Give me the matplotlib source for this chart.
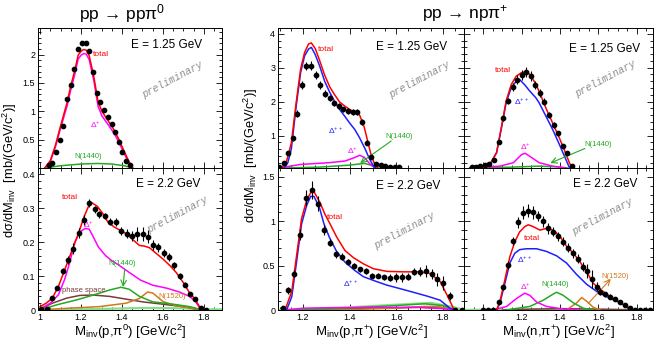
import numpy as np
import matplotlib.pyplot as plt
from matplotlib.ticker import MultipleLocator, FuncFormatter

plt.rcParams['font.family'] = ['Liberation Sans', 'DejaVu Sans']
plt.rcParams['mathtext.default'] = 'regular'

# ---------------- pp -> pp pi0, 1.25 GeV
tl_x = [1.043,1.059,1.076,1.095,1.113,1.133,1.150,1.168,1.186,1.204,1.222,1.240,1.258,1.277,1.295,1.313,1.331,1.349,1.367,1.384,1.402,1.420,1.438]
tl_y = [0.05,0.09,0.28,0.49,0.74,1.22,1.47,1.74,2.10,2.21,2.21,2.07,1.70,1.32,1.16,1.02,0.90,0.78,0.64,0.46,0.29,0.13,0.05]
tl_e = [0.02]*23
tl_tot_x = [1.023,1.05,1.075,1.10,1.133,1.15,1.168,1.186,1.20,1.213,1.225,1.24,1.263,1.283,1.302,1.331,1.36,1.384,1.41,1.433,1.452]
tl_tot_y = [0.0,0.13,0.40,0.74,1.17,1.45,1.70,1.99,2.06,2.09,2.08,1.98,1.60,1.17,1.00,0.84,0.68,0.51,0.30,0.12,0.0]
tl_dp_y  = [0.0,0.11,0.37,0.70,1.11,1.38,1.63,1.92,1.99,2.02,2.01,1.91,1.53,1.09,0.92,0.77,0.62,0.46,0.26,0.09,0.0]
tl_n_x = [1.023,1.10,1.20,1.28,1.35,1.41,1.452]
tl_n_y = [0.0,0.04,0.07,0.08,0.07,0.04,0.0]

# ---------------- pp -> pp pi0, 2.2 GeV
bl_x = [1.005,1.035,1.059,1.083,1.113,1.137,1.161,1.188,1.213,1.239,1.266,1.290,1.316,1.342,1.370,1.396,1.423,1.449,1.475,1.501,1.525,1.552,1.577,1.604,1.629,1.654,1.682,1.706,1.734,1.758,1.787,1.81]
bl_y = [0.002,0.002,0.036,0.064,0.115,0.147,0.181,0.227,0.265,0.316,0.296,0.282,0.277,0.260,0.258,0.232,0.225,0.218,0.223,0.224,0.216,0.191,0.184,0.169,0.155,0.132,0.100,0.074,0.047,0.031,0.005,0.0]
bl_e = [0.002,0.002,0.005,0.006,0.01,0.012,0.015,0.015,0.015,0.012,0.01,0.01,0.01,0.01,0.012,0.012,0.012,0.015,0.02,0.02,0.02,0.015,0.012,0.012,0.012,0.01,0.008,0.007,0.006,0.005,0.003,0.002]
bl_tot_x = [1.0,1.03,1.06,1.09,1.115,1.14,1.165,1.19,1.215,1.24,1.255,1.28,1.305,1.33,1.36,1.39,1.42,1.455,1.485,1.51,1.535,1.56,1.60,1.635,1.665,1.70,1.73,1.755,1.78,1.795]
bl_tot_y = [0.01,0.02,0.035,0.07,0.11,0.15,0.19,0.23,0.275,0.31,0.315,0.305,0.285,0.26,0.245,0.235,0.225,0.206,0.19,0.188,0.183,0.17,0.15,0.13,0.11,0.08,0.05,0.033,0.008,0.0]
bl_dp_x = [1.0,1.05,1.09,1.12,1.145,1.17,1.195,1.22,1.24,1.26,1.285,1.32,1.35,1.38,1.42,1.49,1.55,1.62,1.68,1.73,1.76,1.785]
bl_dp_y = [0.003,0.02,0.045,0.09,0.14,0.20,0.23,0.24,0.238,0.215,0.185,0.16,0.145,0.134,0.117,0.088,0.073,0.064,0.053,0.04,0.024,0.0]
bl_n_x = [1.0,1.08,1.18,1.26,1.34,1.395,1.435,1.485,1.55,1.65,1.73,1.78]
bl_n_y = [0.0,0.015,0.03,0.044,0.059,0.067,0.061,0.04,0.024,0.017,0.01,0.002]
bl_ps_x = [1.0,1.06,1.13,1.195,1.26,1.34,1.42,1.50,1.60,1.71,1.78]
bl_ps_y = [0.002,0.02,0.035,0.043,0.044,0.04,0.032,0.024,0.017,0.009,0.0]
bl_r_x = [1.0,1.13,1.29,1.42,1.485,1.525,1.55,1.60,1.665,1.745,1.78]
bl_r_y = [0.0,0.005,0.01,0.02,0.034,0.053,0.05,0.025,0.012,0.005,0.0]
bl_bg_x = [1.0,1.3,1.5,1.7,1.78,1.89]
bl_bg_y = [0.0,0.003,0.006,0.005,0.002,0.002]

# ---------------- pp -> n p pi+, M(p,pi+), 1.25 GeV
mt_x = [1.096,1.117,1.136,1.156,1.176,1.194,1.214,1.234,1.254,1.274,1.294,1.315,1.334,1.353,1.373,1.393,1.413,1.433,1.453,1.473,1.493,1.513,1.533,1.553,1.573,1.593,1.613]
mt_y = [0.06,0.19,0.48,0.92,1.64,2.49,3.05,3.06,2.78,2.49,2.24,2.10,1.95,1.87,1.77,1.72,1.70,1.70,1.39,0.79,0.38,0.16,0.12,0.09,0.07,0.06,0.06]
mt_e = [0.02,0.03,0.05,0.08,0.1,0.12,0.13,0.13,0.12,0.11,0.1,0.09,0.08,0.08,0.08,0.08,0.09,0.09,0.09,0.07,0.05,0.03,0.02,0.02,0.02,0.01,0.01]
mt_tot_x = [1.11,1.13,1.15,1.171,1.19,1.207,1.224,1.236,1.253,1.272,1.293,1.315,1.336,1.357,1.379,1.40,1.422,1.443,1.462,1.476,1.49,1.504,1.522]
mt_tot_y = [0.05,0.25,0.78,1.98,2.96,3.45,3.70,3.73,3.56,3.20,2.78,2.43,2.20,1.99,1.87,1.77,1.70,1.60,1.26,0.87,0.48,0.21,0.05]
mt_dpp_x = [1.12,1.135,1.15,1.171,1.19,1.207,1.224,1.236,1.253,1.272,1.293,1.315,1.336,1.357,1.379,1.40,1.422,1.443,1.464,1.486,1.504,1.512]
mt_dpp_y = [0.05,0.2,0.6,1.87,2.86,3.35,3.55,3.60,3.38,3.04,2.60,2.27,2.00,1.77,1.57,1.37,1.18,0.93,0.64,0.30,0.08,0.05]
mt_dp_x = [1.10,1.19,1.31,1.38,1.42,1.443,1.464,1.486,1.51]
mt_dp_y = [0.05,0.15,0.20,0.25,0.35,0.42,0.35,0.17,0.05]
mt_n_x = [1.10,1.27,1.40,1.464,1.49,1.51]
mt_n_y = [0.045,0.07,0.13,0.18,0.13,0.05]

# ---------------- pp -> n p pi+, M(p,pi+), 2.2 GeV
mb_x = [1.113,1.137,1.161,1.187,1.213,1.239,1.264,1.29,1.316,1.342,1.367,1.393,1.419,1.445,1.47,1.496,1.522,1.548,1.573,1.6,1.625,1.651,1.676,1.702,1.727,1.751,1.776,1.80,1.828,1.852,1.881]
mb_y = [0.02,0.22,0.41,0.85,1.26,1.35,1.20,0.90,0.76,0.63,0.60,0.545,0.50,0.46,0.44,0.387,0.387,0.368,0.364,0.368,0.368,0.376,0.43,0.43,0.44,0.406,0.346,0.30,0.158,0.0,0.0]
mb_e = [0.01,0.04,0.04,0.06,0.09,0.1,0.08,0.06,0.04,0.04,0.04,0.03,0.03,0.03,0.03,0.03,0.03,0.03,0.04,0.05,0.05,0.04,0.04,0.05,0.07,0.06,0.07,0.08,0.05,0.005,0.005]
mb_tot_x = [1.123,1.152,1.173,1.194,1.216,1.237,1.25,1.273,1.294,1.316,1.345,1.38,1.416,1.459,1.502,1.56,1.63,1.70,1.745,1.788,1.817,1.848]
mb_tot_y = [0.0,0.21,0.62,1.03,1.24,1.34,1.32,1.21,1.08,0.97,0.82,0.67,0.59,0.52,0.465,0.435,0.43,0.43,0.41,0.32,0.17,0.0]
mb_dpp_x = [1.13,1.152,1.173,1.194,1.216,1.233,1.247,1.27,1.29,1.313,1.342,1.378,1.42,1.459,1.516,1.56,1.645,1.73,1.788,1.83,1.85]
mb_dpp_y = [0.0,0.15,0.55,0.97,1.18,1.28,1.28,1.16,0.97,0.82,0.67,0.545,0.45,0.375,0.32,0.28,0.22,0.158,0.11,0.02,0.0]
mb_dp_x = [1.12,1.2,1.3,1.5,1.7,1.8,1.85]
mb_dp_y = [0.0,0.02,0.025,0.03,0.03,0.015,0.0]
mb_n_x = [1.12,1.3,1.45,1.6,1.72,1.8,1.85]
mb_n_y = [0.0,0.01,0.03,0.05,0.07,0.05,0.0]
mb_r_x = [1.12,1.4,1.6,1.72,1.78,1.85]
mb_r_y = [0.0,0.005,0.02,0.04,0.04,0.0]
mb_ps_x = [1.12,1.3,1.5,1.7,1.8,1.85]
mb_ps_y = [0.0,0.01,0.02,0.03,0.02,0.0]
mb_bg_x = [1.09,1.4,1.6,1.75,1.85,1.89]
mb_bg_y = [0.0,0.03,0.06,0.08,0.03,0.0]

# ---------------- pp -> n p pi+, M(n,pi+), 1.25 GeV
rt_x = [0.94,0.962,0.984,1.007,1.03,1.056,1.082,1.104,1.127,1.153,1.177,1.20,1.224,1.247,1.271,1.296,1.318,1.343,1.367,1.391,1.416,1.438,1.463]
rt_y = [0.06,0.07,0.09,0.13,0.16,0.29,0.80,1.51,2.02,2.42,2.65,2.78,2.88,2.75,2.49,2.26,2.0,1.61,1.31,1.07,0.68,0.48,0.09]
rt_e = [0.02,0.02,0.03,0.03,0.04,0.05,0.06,0.08,0.1,0.12,0.13,0.14,0.14,0.14,0.13,0.12,0.1,0.09,0.08,0.07,0.06,0.05,0.03]
rt_tot_x = [0.93,1.035,1.07,1.095,1.12,1.146,1.172,1.198,1.22,1.24,1.266,1.292,1.327,1.362,1.397,1.423,1.449,1.463]
rt_tot_y = [0.05,0.15,0.5,1.25,2.03,2.5,2.75,2.85,2.88,2.82,2.6,2.3,1.81,1.37,0.93,0.58,0.2,0.05]
rt_dpp_x = [0.93,1.035,1.07,1.095,1.12,1.146,1.172,1.19,1.216,1.24,1.275,1.292,1.327,1.362,1.397,1.423,1.449,1.455]
rt_dpp_y = [0.05,0.15,0.5,1.22,1.98,2.41,2.6,2.65,2.5,2.33,2.11,1.96,1.57,1.18,0.74,0.4,0.06,0.045]
rt_dp_x = [0.96,1.087,1.157,1.2,1.218,1.24,1.292,1.362,1.43]
rt_dp_y = [0.05,0.1,0.2,0.44,0.48,0.4,0.2,0.1,0.05]
rt_n_x = [0.96,1.15,1.29,1.38,1.44]
rt_n_y = [0.045,0.07,0.1,0.08,0.045]

# ---------------- pp -> n p pi+, M(n,pi+), 2.2 GeV
rb_x = [1.0,1.026,1.052,1.083,1.104,1.13,1.156,1.183,1.209,1.235,1.261,1.287,1.313,1.339,1.365,1.391,1.417,1.443,1.47,1.496,1.522,1.539,1.565,1.592,1.609,1.635,1.661,1.687,1.713,1.739,1.765,1.79,1.817,1.843,1.87]
rb_y = [0,0,0,0.087,0.256,0.507,0.778,0.989,1.097,1.12,1.10,1.06,1.0,0.92,0.88,0.83,0.77,0.70,0.64,0.58,0.49,0.44,0.346,0.263,0.207,0.177,0.15,0.12,0.09,0.056,0.026,0,0,0,0]
rb_e = [0.003,0.003,0.003,0.02,0.03,0.04,0.05,0.06,0.07,0.07,0.07,0.06,0.06,0.06,0.05,0.05,0.05,0.05,0.05,0.05,0.05,0.08,0.1,0.05,0.04,0.03,0.03,0.02,0.02,0.02,0.01,0.003,0.003,0.003,0.003]
rb_tot_x = [1.07,1.087,1.113,1.139,1.165,1.19,1.217,1.235,1.26,1.296,1.33,1.365,1.40,1.434,1.47,1.504,1.539,1.574,1.609,1.643,1.678,1.713,1.748,1.774]
rb_tot_y = [0,0.096,0.34,0.6,0.77,0.88,0.94,0.96,0.94,0.90,0.92,0.90,0.83,0.72,0.64,0.545,0.43,0.30,0.236,0.18,0.13,0.083,0.038,0]
rb_dpp_x = [1.07,1.087,1.113,1.139,1.165,1.19,1.226,1.278,1.33,1.383,1.434,1.487,1.539,1.591,1.643,1.695,1.748,1.774]
rb_dpp_y = [0,0.075,0.3,0.53,0.64,0.68,0.69,0.69,0.66,0.61,0.53,0.4,0.29,0.21,0.15,0.10,0.038,0]
rb_dp_x = [1.05,1.122,1.174,1.217,1.243,1.278,1.33,1.417,1.504]
rb_dp_y = [0,0.04,0.13,0.19,0.165,0.09,0.04,0.01,0]
rb_n_x = [1.12,1.243,1.313,1.365,1.383,1.417,1.47,1.522,1.574]
rb_n_y = [0,0.04,0.11,0.18,0.20,0.165,0.08,0.02,0]
rb_r_x = [1.434,1.487,1.513,1.539,1.574,1.609]
rb_r_y = [0,0.08,0.14,0.10,0.03,0]
rb_ps_x = [1.1,1.25,1.4,1.55,1.7,1.77]
rb_ps_y = [0,0.01,0.015,0.012,0.005,0]
rb_bg_x = [0.9,1.2,1.5,1.8,1.885]
rb_bg_y = [0.002,0.003,0.003,0.002,0.002]

RED, MAG, GRN, BLU = '#ff0000', '#ff00ff', '#22aa22', '#1f1fff'
BRN, ORG, LGR = '#7a3b3b', '#d2781e', '#88dd88'

W, H = 654, 342
fig = plt.figure(figsize=(6.54, 3.42), dpi=100)

def panel(x0, x1, ytop, ybot):
    return fig.add_axes([x0 / W, 1 - ybot / H, (x1 - x0) / W, (ybot - ytop) / H])

def style(ax, xlim, ylim, ymaj, ymin, xlab, ylab, hide0=False):
    ax.set_xlim(*xlim)
    ax.set_ylim(*ylim)
    ax.xaxis.set_major_locator(MultipleLocator(0.2))
    ax.xaxis.set_minor_locator(MultipleLocator(0.05))
    ax.yaxis.set_major_locator(MultipleLocator(ymaj))
    ax.yaxis.set_minor_locator(MultipleLocator(ymin))
    ax.tick_params(which='both', direction='in', top=True, right=True,
                   labelsize=6.5, width=0.6, pad=2)
    ax.tick_params(which='major', length=4)
    ax.tick_params(which='minor', length=2)
    ax.xaxis.set_major_formatter(FuncFormatter(lambda v, p: f'{v:g}'))
    ax.yaxis.set_major_formatter(FuncFormatter(
        lambda v, p: '' if (hide0 and abs(v) < 1e-9) else f'{v:g}'))
    ax.tick_params(labelbottom=xlab, labelleft=ylab)
    for s in ax.spines.values():
        s.set_linewidth(0.7)

def data(ax, x, y, e):
    ax.errorbar(x, y, yerr=e, fmt='o', color='black', ms=3.1, elinewidth=0.8,
                capsize=0, zorder=6)

def curve(ax, x, y, c, lw=1.1, z=3):
    ax.plot(x, y, color=c, lw=lw, zorder=z)

def prelim(ax, x, y):
    ax.text(x, y, 'preliminary', transform=ax.transAxes, rotation=28,
            family='Liberation Mono', style='italic', color='0.55',
            fontsize=7.3, ha='center', va='center')

def energy(ax, x, y, s):
    ax.text(x, y, s, transform=ax.transAxes, fontsize=8.5, ha='center', va='center')

def lab(ax, x, y, s, c, fs=6):
    ax.text(x, y, s, color=c, fontsize=fs, ha='center', va='center', zorder=7)

def arrow(ax, tail, tip, c):
    ax.annotate('', xy=tip, xytext=tail,
                arrowprops=dict(arrowstyle='->', color=c, lw=0.8, shrinkA=0, shrinkB=0))

# ---- top-left
ax = panel(38, 222, 28, 168)
style(ax, (0.99, 1.888), (0, 2.47), 0.5, 0.1, False, True, hide0=True)
curve(ax, tl_n_x, tl_n_y, GRN)
curve(ax, tl_tot_x, tl_dp_y, MAG)
curve(ax, tl_tot_x, tl_tot_y, RED)
data(ax, tl_x, tl_y, tl_e)
lab(ax, 1.295, 2.0, 'total', RED)
lab(ax, 1.27, 0.76, 'Δ$^{+}$', MAG)
lab(ax, 1.236, 0.21, 'N(1440)', GRN, 5.5)
energy(ax, 0.70, 0.88, 'E = 1.25 GeV')
prelim(ax, 0.73, 0.63)

# ---- bottom-left
ax = panel(38, 222, 168, 310)
style(ax, (0.99, 1.888), (0, 0.418), 0.1, 0.02, True, True)
curve(ax, bl_bg_x, bl_bg_y, LGR, 1.6, 2)
curve(ax, bl_ps_x, bl_ps_y, BRN)
curve(ax, bl_r_x, bl_r_y, ORG)
curve(ax, bl_n_x, bl_n_y, GRN)
curve(ax, bl_dp_x, bl_dp_y, MAG)
curve(ax, bl_tot_x, bl_tot_y, RED)
data(ax, bl_x, bl_y, bl_e)
lab(ax, 1.148, 0.33, 'total', RED)
lab(ax, 1.236, 0.25, 'Δ$^{+}$', MAG)
lab(ax, 1.40, 0.138, 'N(1440)', GRN, 5.5)
arrow(ax, (1.413, 0.12), (1.405, 0.068), GRN)
lab(ax, 1.215, 0.058, 'phase space', BRN, 5.5)
lab(ax, 1.645, 0.04, 'N(1520)', ORG, 5.5)
energy(ax, 0.71, 0.885, 'E = 2.2 GeV')
prelim(ax, 0.76, 0.67)
ax.set_xlabel('M$_{inv}$(p,π$^{0}$) [GeV/c$^{2}$]', fontsize=9.5, labelpad=1)

# ---- top-middle
ax = panel(278, 464, 28, 168)
style(ax, (1.093, 1.89), (0.045, 4.17), 1, 0.2, False, True)
curve(ax, mt_n_x, mt_n_y, GRN)
curve(ax, mt_dp_x, mt_dp_y, MAG)
curve(ax, mt_dpp_x, mt_dpp_y, BLU)
curve(ax, mt_tot_x, mt_tot_y, RED)
data(ax, mt_x, mt_y, mt_e)
lab(ax, 1.30, 3.54, 'total', RED)
lab(ax, 1.342, 1.14, 'Δ$^{++}$', BLU)
lab(ax, 1.41, 0.56, 'Δ$^{+}$', MAG)
lab(ax, 1.61, 0.96, 'N(1440)', GRN, 5.5)
arrow(ax, (1.578, 0.84), (1.445, 0.19), GRN)
energy(ax, 0.72, 0.865, 'E = 1.25 GeV')
prelim(ax, 0.76, 0.63)

# ---- bottom-middle
ax = panel(278, 464, 168, 310)
style(ax, (1.093, 1.89), (0, 1.6), 0.5, 0.1, True, True)
curve(ax, mb_bg_x, mb_bg_y, LGR, 1.6, 2)
curve(ax, mb_ps_x, mb_ps_y, BRN)
curve(ax, mb_r_x, mb_r_y, ORG)
curve(ax, mb_n_x, mb_n_y, GRN)
curve(ax, mb_dp_x, mb_dp_y, MAG)
curve(ax, mb_dpp_x, mb_dpp_y, BLU)
curve(ax, mb_tot_x, mb_tot_y, RED)
data(ax, mb_x, mb_y, mb_e)
lab(ax, 1.337, 1.04, 'total', RED)
lab(ax, 1.405, 0.30, 'Δ$^{++}$', BLU)
energy(ax, 0.70, 0.87, 'E = 2.2 GeV')
prelim(ax, 0.68, 0.56)
ax.set_xlabel('M$_{inv}$(p,π$^{+}$) [GeV/c$^{2}$]', fontsize=9.5, labelpad=1)

# ---- top-right
ax = panel(464, 653, 28, 168)
style(ax, (0.90, 1.885), (0.045, 4.17), 1, 0.2, False, False)
curve(ax, rt_n_x, rt_n_y, GRN)
curve(ax, rt_dp_x, rt_dp_y, MAG)
curve(ax, rt_dpp_x, rt_dpp_y, BLU)
curve(ax, rt_tot_x, rt_tot_y, RED)
data(ax, rt_x, rt_y, rt_e)
lab(ax, 1.104, 2.93, 'total', RED)
lab(ax, 1.20, 2.0, 'Δ$^{++}$', BLU)
lab(ax, 1.218, 0.68, 'Δ$^{+}$', MAG)
lab(ax, 1.60, 0.73, 'N(1440)', GRN, 5.5)
arrow(ax, (1.53, 0.62), (1.35, 0.19), GRN)
energy(ax, 0.746, 0.85, 'E = 1.25 GeV')
prelim(ax, 0.746, 0.64)

# ---- bottom-right
ax = panel(464, 653, 168, 310)
style(ax, (0.90, 1.885), (0, 1.6), 0.5, 0.1, True, False)
curve(ax, rb_bg_x, rb_bg_y, LGR, 1.6, 2)
curve(ax, rb_ps_x, rb_ps_y, BRN)
curve(ax, rb_r_x, rb_r_y, ORG)
curve(ax, rb_n_x, rb_n_y, GRN)
curve(ax, rb_dp_x, rb_dp_y, MAG)
curve(ax, rb_dpp_x, rb_dpp_y, BLU)
curve(ax, rb_tot_x, rb_tot_y, RED)
data(ax, rb_x, rb_y, rb_e)
lab(ax, 1.252, 0.80, 'total', RED)
lab(ax, 1.218, 0.56, 'Δ$^{++}$', BLU)
lab(ax, 1.218, 0.26, 'Δ$^{+}$', MAG)
lab(ax, 1.374, 0.29, 'N(1440)', GRN, 5.5)
lab(ax, 1.69, 0.38, 'N(1520)', ORG, 5.5)
arrow(ax, (1.548, 0.075), (1.665, 0.35), ORG)
energy(ax, 0.746, 0.887, 'E = 2.2 GeV')
prelim(ax, 0.73, 0.655)
ax.set_xlabel('M$_{inv}$(n,π$^{+}$) [GeV/c$^{2}$]', fontsize=9.5, labelpad=1)

# ---- titles and y labels
fig.text(122 / W, 1 - 14 / H, 'pp → ppπ$^{0}$', fontsize=12.5, ha='center', va='center')
fig.text(465 / W, 1 - 13 / H, 'pp → npπ$^{+}$', fontsize=12.5, ha='center', va='center')
ylab = 'dσ/dM$_{inv}$  [mb/(GeV/c$^{2}$)]'
fig.text(10 / W, 1 - 170 / H, ylab, rotation=90, fontsize=9.3, ha='center', va='center')
fig.text(251 / W, 1 - 155 / H, ylab, rotation=90, fontsize=9.3, ha='center', va='center')

fig.savefig('out.png', dpi=100)
